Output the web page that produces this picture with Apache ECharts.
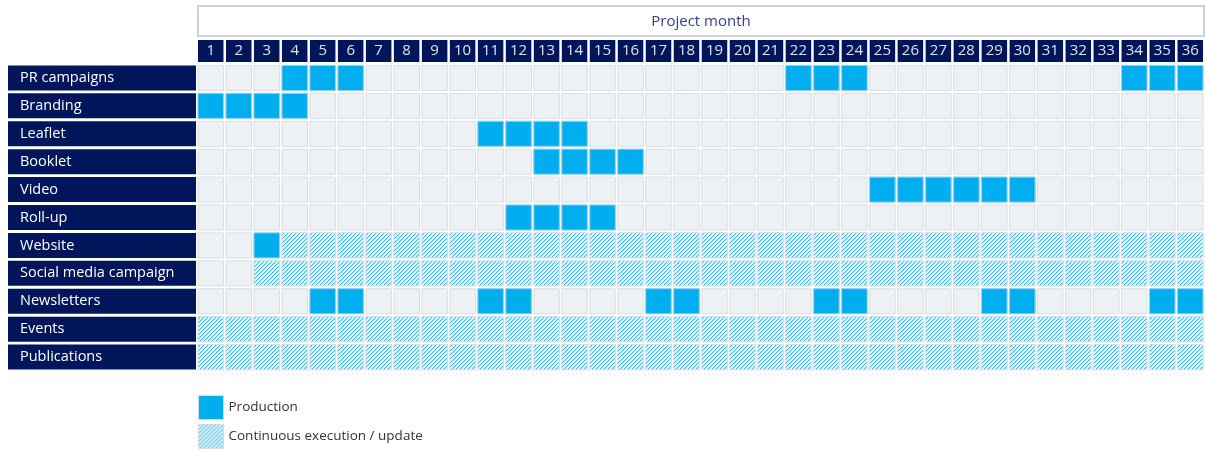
<!DOCTYPE html>
<html>
<head>
<meta charset="utf-8">
<script src="https://cdn.jsdelivr.net/npm/echarts@6/dist/echarts.min.js"></script>
<style>html,body{margin:0;padding:0;background:#fff}</style>
</head>
<body>
<div id="chart" style="width:1206px;height:453px"></div>
<script>
var months = ['1','2','3','4','5','6','7','8','9','10','11','12','13','14','15','16','17','18',
  '19','20','21','22','23','24','25','26','27','28','29','30','31','32','33','34','35','36'];
var tasks = ['PR campaigns','Branding','Leaflet','Booklet','Video','Roll-up','Website',
  'Social media campaign','Newsletters','Events','Publications'];
// [task index, first month, last month]
var production = [[0,4,6],[0,22,24],[0,34,36],[1,1,4],[2,11,14],[3,13,16],[4,25,30],[5,12,15],
  [6,3,3],[8,5,6],[8,11,12],[8,17,18],[8,23,24],[8,29,30],[8,35,36]];
var continuous = [[6,4,36],[7,3,36],[9,1,36],[10,1,36]];

var navy = '#01165a';
var font = 'Open Sans';

function spansToCells(spans) {
  var out = [];
  spans.forEach(function (s) {
    for (var m = s[1]; m <= s[2]; m++) out.push([m - 1, s[0]]);
  });
  return out;
}
var allCells = [];
tasks.forEach(function (t, i) {
  months.forEach(function (m, j) { allCells.push([j, i]); });
});

// hatch pattern ///
var pc = document.createElement('canvas');
pc.width = 8; pc.height = 8;
var ctx = pc.getContext('2d');
for (var x = 0; x < 8; x++) {
  for (var y = 0; y < 8; y++) {
    var k = (x + y) % 4;
    ctx.fillStyle = k === 0 ? '#3ab9ee' : (k === 1 ? '#b2e2f6' : '#eff7fc');
    ctx.fillRect(x, y, 1, 1);
  }
}
var hatch = { image: pc, repeat: 'repeat' };

function cellRenderer(fill, stroke) {
  return function (params, api) {
    var c = api.coord([api.value(0), api.value(1)]);
    var sz = api.size([1, 1]);
    var w = sz[0] - 2.5, h = sz[1] - 2.9;
    return {
      type: 'rect',
      shape: { x: c[0] - w / 2, y: c[1] - h / 2, width: w, height: h },
      style: { fill: fill, stroke: stroke, lineWidth: 1 }
    };
  };
}

var legendBase = {
  left: 198, padding: 0, itemWidth: 25, itemHeight: 24, icon: 'rect',
  itemStyle: { borderColor: '#d5dce3', borderWidth: 1 },
  textStyle: { color: '#333', fontSize: 13.5, fontFamily: font }
};

var chart = echarts.init(document.getElementById('chart'));
chart.setOption({
  animation: false,
  grid: { left: 196.75, right: 1.25, top: 64, bottom: 82 },
  graphic: [
    { type: 'rect', shape: { x: 198, y: 6, width: 1006, height: 30 },
      style: { fill: '#fff', stroke: '#c9d3dd', lineWidth: 2 } },
    { type: 'text', x: 701, y: 22,
      style: { text: 'Project month', fill: '#34418f', font: '15px "' + font + '"', align: 'center', verticalAlign: 'middle' } }
  ],
  legend: [
    Object.assign({ top: 395, data: ['Production'] }, legendBase),
    Object.assign({ top: 424, data: ['Continuous execution / update'] }, legendBase)
  ],
  xAxis: {
    type: 'category', position: 'top', data: months,
    axisLine: { show: false }, axisTick: { show: false }, splitLine: { show: false },
    axisLabel: {
      interval: 0, margin: 2, color: '#dfe3ee', fontSize: 15, fontFamily: font,
      backgroundColor: navy, width: 25.5, height: 22, lineHeight: 22, align: 'center'
    }
  },
  yAxis: {
    type: 'category', inverse: true, data: tasks,
    axisLine: { show: false }, axisTick: { show: false }, splitLine: { show: false },
    axisLabel: {
      interval: 0, margin: 188.75, align: 'left', color: '#fff', fontSize: 14.5, fontFamily: font,
      backgroundColor: navy, width: 176, height: 25, lineHeight: 25, padding: [0, 0, 0, 12]
    }
  },
  series: [
    { type: 'custom', name: 'grid', silent: true, data: allCells,
      renderItem: cellRenderer('#eef1f4', '#d8dee4') },
    { type: 'custom', name: 'Production', data: spansToCells(production),
      itemStyle: { color: '#00aeef' },
      renderItem: cellRenderer('#00aeef', '#8fd3f1') },
    { type: 'custom', name: 'Continuous execution / update', data: spansToCells(continuous),
      itemStyle: { color: hatch },
      renderItem: cellRenderer(hatch, '#d8dee4') }
  ]
});
</script>
</body>
</html>
